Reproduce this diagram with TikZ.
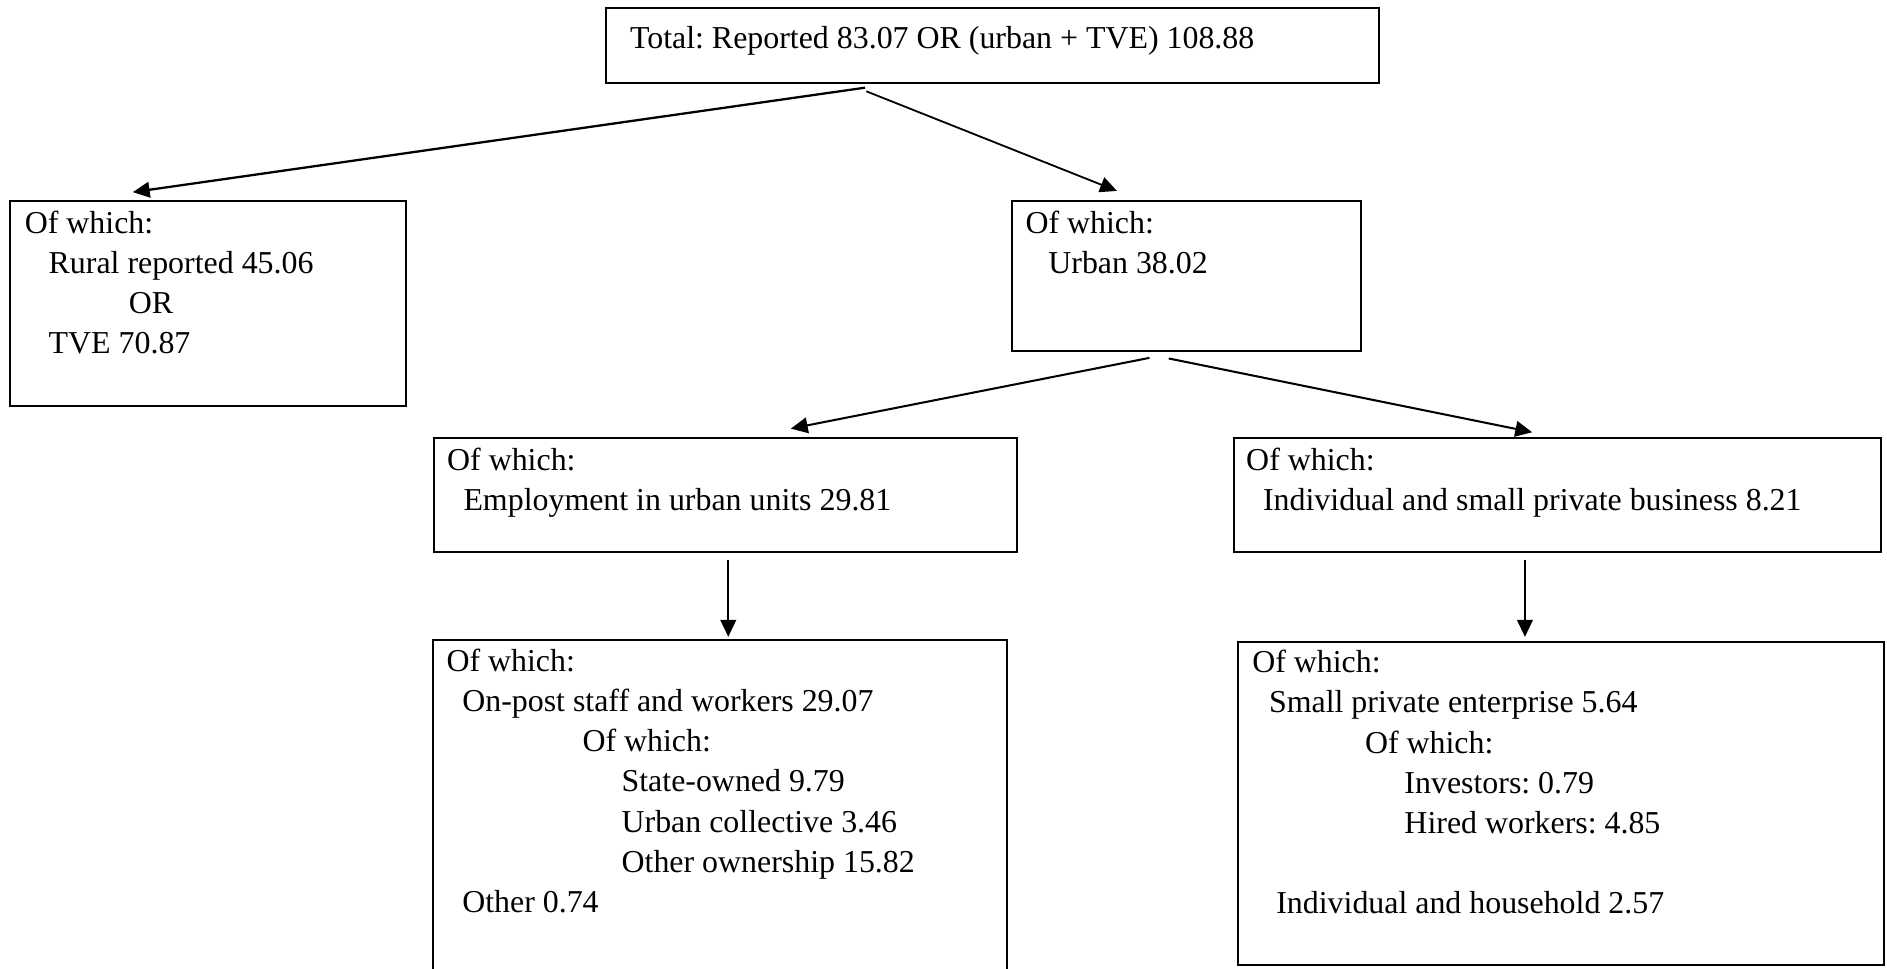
\documentclass[tikz,border=0pt]{standalone}
\usepackage{fontspec}
\setmainfont{Liberation Serif}
\usetikzlibrary{arrows.meta,fit}
\frenchspacing

\newcommand{\boxlines}[1]{\begin{tabular}[t]{@{}l@{}}#1\end{tabular}}

\tikzset{
  box/.style={draw, line width=0.85pt, inner sep=0pt},
  txt/.style={anchor=base west, inner sep=0pt, font=\fontsize{13.25}{16.65}\selectfont},
  arr/.style={-{Triangle[length=7pt,width=6.5pt]}, line width=0.75pt}
}

\begin{document}
\begin{tikzpicture}[x=0.5pt,y=-0.5pt]
    \useasboundingbox (0,0) rectangle (1568,805);
    % boxes
    \node[box, fit={(503.7,6.9) (1146,69)}] (total) {};
    \node[box, fit={(8.2,167) (337.6,337)}] (rural) {};
    \node[box, fit={(841,167) (1131,292)}] (urban) {};
    \node[box, fit={(361,364) (845,459)}] (employ) {};
    \node[box, fit={(1025,364) (1563,459)}] (indiv) {};
    \node[box, fit={(360,532) (837,815)}] (onpost) {};
    \node[box, fit={(1029,533.6) (1565.6,802)}] (smallpriv) {};
    % texts
    \node[txt] (totaltxt) at ([shift={(20.3,34)}]total.north west)
      {Total: Reported 83.07 OR (urban + TVE) 108.88};
    \node[txt] (ruraltxt) at ([shift={(12.9,28)}]rural.north west)
      {\boxlines{Of which:\\ \hspace*{9.9pt}Rural reported 45.06\\ \hspace*{43.2pt}OR\\ \hspace*{9.9pt}TVE 70.87}};
    \node[txt] (urbantxt) at ([shift={(11.6,28)}]urban.north west)
      {\boxlines{Of which:\\ \hspace*{9.5pt}Urban 38.02}};
    \node[txt] (employtxt) at ([shift={(11,27.5)}]employ.north west)
      {\boxlines{Of which:\\ \hspace*{6.8pt}Employment in urban units 29.81}};
    \node[txt] (indivtxt) at ([shift={(11,27.5)}]indiv.north west)
      {\boxlines{Of which:\\ \hspace*{7pt}Individual and small private business 8.21}};
    \node[txt] (onposttxt) at ([shift={(11.5,27)}]onpost.north west)
      {\boxlines{Of which:\\ \hspace*{6.55pt}On-post staff and workers 29.07\\
        \hspace*{56.5pt}Of which:\\ \hspace*{72.75pt}State-owned 9.79\\
        \hspace*{72.75pt}Urban collective 3.46\\ \hspace*{72.75pt}Other ownership 15.82\\
        \hspace*{6.55pt}Other 0.74}};
    \node[txt] (smallprivtxt) at ([shift={(12,26.4)}]smallpriv.north west)
      {\boxlines{Of which:\\ \hspace*{7pt}Small private enterprise 5.64\\
        \hspace*{46.85pt}Of which:\\ \hspace*{63.25pt}Investors: 0.79\\
        \hspace*{63.25pt}Hired workers: 4.85\\ \\
        \hspace*{10pt}Individual and household 2.57}};
    % arrows
    \draw[arr, line width=0.95pt] ([shift={(216,3)}]total.south west) -- ([shift={(103,-6.5)}]rural.north west);
    \draw[arr] ([shift={(217,6)}]total.south west) -- ([shift={(88,-7.5)}]urban.north west);
    \draw[arr, line width=0.85pt] ([shift={(115,4.5)}]urban.south west) -- ([shift={(297,-7)}]employ.north west);
    \draw[arr, line width=0.85pt] ([shift={(131,5)}]urban.south west) -- ([shift={(249,-4)}]indiv.north west);
    \draw[arr] ([shift={(245,5.5)}]employ.south west) -- ([shift={(246,-2)}]onpost.north west);
    \draw[arr] ([shift={(243,5.5)}]indiv.south west) -- ([shift={(239,-3.6)}]smallpriv.north west);
\end{tikzpicture}
\end{document}
